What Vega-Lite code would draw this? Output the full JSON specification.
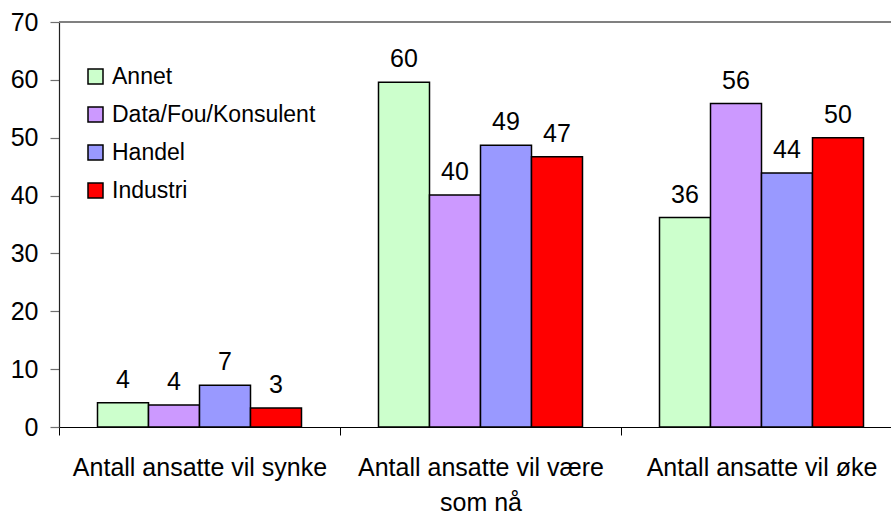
{
  "$schema": "https://vega.github.io/schema/vega-lite/v6.json",
  "width": 832,
  "height": 405,
  "autosize": {"type": "none"},
  "padding": {"left": 59, "top": 22, "right": 0, "bottom": 88},
  "background": "white",
  "config": {
    "font": "Liberation Sans",
    "view": {"stroke": null},
    "axis": {"labelFont": "Liberation Sans", "labelColor": "black", "grid": false, "title": null}
  },
  "data": {
    "values": [
      {"kategori": "Antall ansatte vil synke", "bransje": "Annet", "verdi": 4.2},
      {"kategori": "Antall ansatte vil synke", "bransje": "Data/Fou/Konsulent", "verdi": 3.8},
      {"kategori": "Antall ansatte vil synke", "bransje": "Handel", "verdi": 7.2},
      {"kategori": "Antall ansatte vil synke", "bransje": "Industri", "verdi": 3.3},
      {"kategori": "Antall ansatte vil være som nå", "bransje": "Annet", "verdi": 59.6},
      {"kategori": "Antall ansatte vil være som nå", "bransje": "Data/Fou/Konsulent", "verdi": 40.1},
      {"kategori": "Antall ansatte vil være som nå", "bransje": "Handel", "verdi": 48.7},
      {"kategori": "Antall ansatte vil være som nå", "bransje": "Industri", "verdi": 46.7},
      {"kategori": "Antall ansatte vil øke", "bransje": "Annet", "verdi": 36.2},
      {"kategori": "Antall ansatte vil øke", "bransje": "Data/Fou/Konsulent", "verdi": 55.9},
      {"kategori": "Antall ansatte vil øke", "bransje": "Handel", "verdi": 43.9},
      {"kategori": "Antall ansatte vil øke", "bransje": "Industri", "verdi": 50.0}
    ]
  },
  "encoding": {
    "x": {
      "field": "kategori",
      "type": "nominal",
      "sort": ["Antall ansatte vil synke", "Antall ansatte vil være som nå", "Antall ansatte vil øke"],
      "scale": {"paddingInner": 0, "paddingOuter": 0, "range": [0, 843]},
      "axis": {
        "labelAngle": 0,
        "labelFontSize": 25,
        "labelPadding": 40,
        "labelLineHeight": 35,
        "labelBaseline": "alphabetic",
        "labelLimit": 400,
        "tickBand": "extent",
        "tickSize": 8,
        "tickColor": "black",
        "domainColor": "black",
        "domainWidth": 1.2,
        "labelExpr": "datum.label == 'Antall ansatte vil være som nå' ? ['Antall ansatte vil være', 'som nå'] : datum.label"
      }
    },
    "xOffset": {
      "field": "bransje",
      "type": "nominal",
      "sort": ["Annet", "Data/Fou/Konsulent", "Handel", "Industri"],
      "scale": {"paddingInner": 0, "paddingOuter": 0.755}
    },
    "y": {
      "field": "verdi",
      "type": "quantitative",
      "scale": {"domain": [0, 70], "nice": false},
      "axis": {
        "values": [0, 10, 20, 30, 40, 50, 60, 70],
        "labelFontSize": 25,
        "labelPadding": 12,
        "tickSize": 9,
        "tickColor": "#707070",
        "tickWidth": 1.2,
        "domainColor": "#222222",
        "domainWidth": 1.2
      }
    }
  },
  "layer": [
    {
      "mark": {"type": "rule", "color": "#808080", "strokeWidth": 1.2},
      "encoding": {
        "y": {"datum": 70},
        "x": null,
        "xOffset": null
      }
    },
    {
      "mark": {"type": "bar", "stroke": "black", "strokeWidth": 1.5},
      "encoding": {
        "color": {
          "field": "bransje",
          "type": "nominal",
          "sort": ["Annet", "Data/Fou/Konsulent", "Handel", "Industri"],
          "scale": {
            "domain": ["Annet", "Data/Fou/Konsulent", "Handel", "Industri"],
            "range": ["#CCFFCC", "#CC99FF", "#9999FF", "#FF0000"]
          },
          "legend": {
            "title": null,
            "orient": "none",
            "legendX": 25,
            "legendY": 43,
            "padding": 0,
            "symbolType": "square",
            "symbolSize": 225,
            "symbolStrokeColor": "black",
            "symbolStrokeWidth": 1.5,
            "symbolOpacity": 1,
            "labelFontSize": 23,
            "labelFont": "Liberation Sans",
            "labelColor": "black",
            "labelOffset": 5,
            "rowPadding": 14,
            "labelLimit": 400
          }
        }
      }
    },
    {
      "mark": {"type": "text", "baseline": "alphabetic", "dy": -15, "fontSize": 25, "color": "black", "font": "Liberation Sans"},
      "encoding": {
        "text": {"field": "verdi", "type": "quantitative", "format": ".0f"}
      }
    }
  ]
}
